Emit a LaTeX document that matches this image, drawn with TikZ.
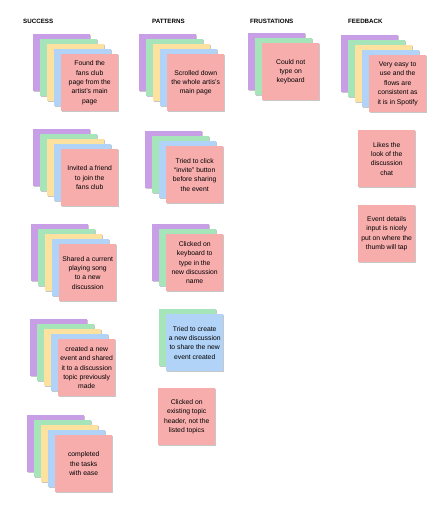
\documentclass[tikz,border=0pt]{standalone}
\usepackage{fontspec}
\setmainfont{Liberation Sans}
\usetikzlibrary{shadows}

\definecolor{notepurple}{HTML}{C89EE6}
\definecolor{notegreen}{HTML}{A6E5B9}
\definecolor{noteyellow}{HTML}{FDE19F}
\definecolor{noteblue}{HTML}{B1D3F7}
\definecolor{notepink}{HTML}{F8ADAD}

\tikzset{
  note/.style={minimum width=57pt, minimum height=57pt, inner sep=1pt, anchor=north west,
    align=center, font=\fontsize{6.8}{9.4}\selectfont,
    drop shadow={shadow xshift=0.3pt, shadow yshift=-0.9pt, fill=black, opacity=0.22}},
  heading/.style={anchor=west, inner sep=0pt, font=\bfseries\fontsize{6.2}{7}\selectfont}
}

% a stack of sticky notes: name, front corner x, y, back layers (colour/steps back), front colour, text
\newcommand{\notestack}[6]{%
  \foreach \col/\k in {#4} {
    \node[note, fill=\col] (#1-\k) at ({#2-7*\k},{#3-5*\k}) {};
  }
  \node[note, fill=#5] (#1) at (#2,#3) {#6};
}

\begin{document}
\begin{tikzpicture}[x=1pt, y=-1pt]
\fill[white] (0,0) rectangle (445,508);
\useasboundingbox (0,0) rectangle (445,508);
% column headings
\node[heading] (hsuccess) at (23,21) {SUCCESS};
\node[heading] (hpatterns) at (152,21) {PATTERNS};
\node[heading] (hfrust) at (250,21) {FRUSTATIONS};
\node[heading] (hfeedback) at (348,21) {FEEDBACK};
% success
\notestack{s1}{61}{54}{notepurple/4, notegreen/3, noteyellow/2, noteblue/1}{notepink}
  {Found the\\fans club\\page from the\\artist’s main\\page}
\notestack{s2}{61}{149}{notepurple/4, notegreen/3, noteyellow/2, noteblue/1}{notepink}
  {Invited a friend\\to join the\\fans club}
\notestack{s3}{59}{244}{notepurple/4, notegreen/3, noteyellow/2, noteblue/1}{notepink}
  {Shared a current\\playing song\\to a new\\discussion}
\notestack{s4}{58}{339}{notepurple/4, notegreen/3, noteyellow/2, noteblue/1}{notepink}
  {created a new\\event and shared\\it to a discussion\\topic previously\\made}
\notestack{s5}{55}{435}{notepurple/4, notegreen/3, noteyellow/2, noteblue/1}{notepink}
  {completed\\the tasks\\with ease}
% patterns
\notestack{p1}{167}{54}{notepurple/4, notegreen/3, noteyellow/2, noteblue/1}{notepink}
  {Scrolled down\\the whole artis’s\\main page}
\notestack{p2}{166}{146}{notepurple/3, notegreen/2, noteblue/1}{notepink}
  {Tried to click\\“invite” button\\before sharing\\the event}
\notestack{p3}{166}{234}{notepurple/2, notegreen/1}{notepink}
  {Clicked on\\keyboard to\\type in the\\new discussion\\name}
\notestack{p4}{166}{314}{notegreen/1}{noteblue}
  {Tried to create\\a new discussion\\to share the new\\event created}
\node[note, fill=notepink] (p5) at (158,388) {Clicked on\\existing topic\\header, not the\\listed topics};
% frustrations
\notestack{f1}{262}{43}{notepurple/2, notegreen/1}{notepink}
  {Could not\\type on\\keyboard}
% feedback
\notestack{b1}{369}{55}{notepurple/4, notegreen/3, noteyellow/2, noteblue/1}{notepink}
  {Very easy to\\use and the\\flows are\\consistent as\\it is in Spotify}
\node[note, fill=notepink] (b2) at (358,130) {Likes the\\look of the\\discussion\\chat};
\node[note, fill=notepink] (b3) at (358,205) {Event details\\input is nicely\\put on where the\\thumb will tap};
\end{tikzpicture}
\end{document}
